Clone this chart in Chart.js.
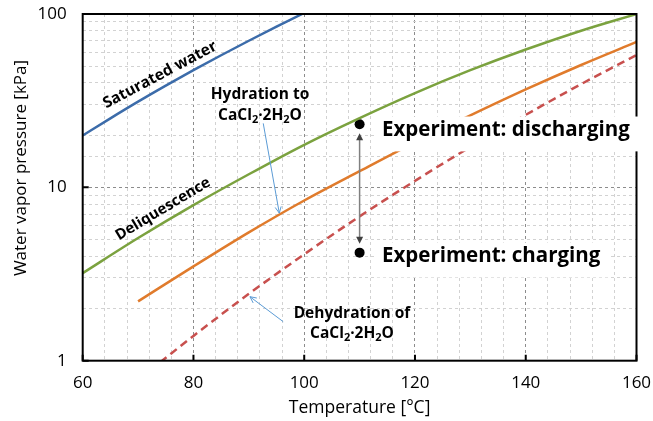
<!DOCTYPE html>
<html>
<head>
<meta charset="utf-8">
<script src="https://cdn.jsdelivr.net/npm/chart.js@4.4.1/dist/chart.umd.min.js"></script>
<style>
  html, body { margin: 0; padding: 0; background: #fff; }
  #wrap { width: 653px; height: 421px; }
</style>
</head>
<body>
<div id="wrap"><canvas id="vaporChart" width="653" height="421"></canvas></div>
<script>
// temperature [°C] and vapor pressure [kPa] of each curve
const satTemp = [60, 65, 70, 75, 80, 85, 90, 95, 100, 105];
const satPres = [19.9, 25.0, 31.2, 38.6, 47.4, 57.8, 70.1, 84.6, 101.4, 120.8];
const deliqTemp = [60, 70, 80, 90, 100, 110, 120, 130, 140, 150, 160];
const deliqPres = [3.2, 5.1, 7.9, 11.9, 17.6, 25.1, 35.0, 47.4, 62.4, 80.1, 100];
const hydTemp = [70, 80, 90, 100, 110, 120, 130, 140, 150, 160];
const hydPres = [2.2, 3.5, 5.5, 8.4, 12.4, 18.2, 26.0, 36.7, 50.8, 69.0];
const dehydTemp = [74, 80, 90, 100, 110, 120, 130, 140, 150, 160];
const dehydPres = [0.98, 1.39, 2.43, 4.11, 6.8, 10.9, 17.1, 26.2, 39.4, 58.0];
// experiment points: discharging, charging
const expTemp = [110, 110];
const expPres = [23.1, 4.2];

const xTickLabels = [60, 80, 100, 120, 140, 160];
const yTickLabels = [1, 10, 100];

const FONT = "'Open Sans', 'Noto Sans', sans-serif";
const BLUE = '#3c6caa';
const GREEN = '#7ba23f';
const ORANGE = '#e07b2c';
const RED = '#c8504e';
const NOTE_BLUE = '#5b9bd5';

function toPoints(xs, ys) {
    return xs.map((x, i) => ({ x: x, y: ys[i] }));
}

// text with subscript parts, e.g. CaCl2·2H2O
function drawRich(c, parts, cx, baseY, size) {
    const big = `bold ${size}px ${FONT}`;
    const small = `bold ${Math.round(size * 0.68)}px ${FONT}`;
    let total = 0;
    parts.forEach(p => { c.font = p[1] ? small : big; total += c.measureText(p[0]).width; });
    let x = cx - total / 2;
    c.textAlign = 'left';
    c.textBaseline = 'alphabetic';
    parts.forEach(p => {
        c.font = p[1] ? small : big;
        c.fillText(p[0], x, p[1] ? baseY + size * 0.22 : baseY);
        x += c.measureText(p[0]).width;
    });
}

function drawRotated(c, text, cx, cy, deg, size) {
    c.save();
    c.translate(cx, cy);
    c.rotate(-deg * Math.PI / 180);
    c.font = `bold ${size}px ${FONT}`;
    c.textAlign = 'center';
    c.textBaseline = 'middle';
    c.fillText(text, 0, 0);
    c.restore();
}

function openArrow(c, x1, y1, x2, y2, color) {
    const ang = Math.atan2(y2 - y1, x2 - x1);
    c.strokeStyle = color;
    c.lineWidth = 1;
    c.beginPath();
    c.moveTo(x1, y1);
    c.lineTo(x2, y2);
    c.moveTo(x2 - 7 * Math.cos(ang - 0.45), y2 - 7 * Math.sin(ang - 0.45));
    c.lineTo(x2, y2);
    c.lineTo(x2 - 7 * Math.cos(ang + 0.45), y2 - 7 * Math.sin(ang + 0.45));
    c.stroke();
}

function headAt(c, x, y, dir) {
    c.beginPath();
    c.moveTo(x, y);
    c.lineTo(x - 3.5, y - dir * 7);
    c.lineTo(x + 3.5, y - dir * 7);
    c.closePath();
    c.fill();
}

function labelBox(c, text, x, baseY, size, padR) {
    c.font = `bold ${size}px ${FONT}`;
    const w = c.measureText(text).width;
    c.fillStyle = '#fff';
    c.fillRect(x - 7, baseY - size * 0.95, w + 7 + padR, size * 1.7);
    c.fillStyle = '#000';
    c.textAlign = 'left';
    c.textBaseline = 'alphabetic';
    c.fillText(text, x, baseY);
}

// keep tick label overhang from shrinking the plot area
function noOverhang(s) {
    s.paddingTop = 0;
    s.paddingBottom = 0;
    s.paddingLeft = 0;
    s.paddingRight = 0;
}

const decorations = {
    id: 'decorations',
    afterDatasetsDraw(chart) {
        const c = chart.ctx;
        const a = chart.chartArea;
        const xs = chart.scales.x;
        const ys = chart.scales.y;
        c.save();

        // plot frame and inward major ticks
        c.strokeStyle = '#000';
        c.lineWidth = 2;
        c.strokeRect(a.left, a.top, a.right - a.left, a.bottom - a.top);
        c.beginPath();
        xTickLabels.forEach(v => {
            const px = xs.getPixelForValue(v);
            c.moveTo(px, a.bottom);
            c.lineTo(px, a.bottom - 6);
        });
        yTickLabels.forEach(v => {
            const py = ys.getPixelForValue(v);
            c.moveTo(a.left, py);
            c.lineTo(a.left + 6, py);
        });
        c.stroke();

        // axis titles
        c.fillStyle = '#000';
        c.font = `17.5px ${FONT}`;
        c.textAlign = 'center';
        c.textBaseline = 'middle';
        c.fillText('Temperature [°C]', (a.left + a.right) / 2, 408);
        c.font = `17px ${FONT}`;
        c.save();
        c.translate(21, 168);
        c.rotate(-Math.PI / 2);
        c.fillText('Water vapor pressure [kPa]', 0, 0);
        c.restore();

        // curve names
        drawRotated(c, 'Saturated water', 160, 75, 28, 15.5);
        drawRotated(c, 'Deliquescence', 163, 209, 31, 15);

        c.fillStyle = '#000';
        c.font = `bold 15.5px ${FONT}`;
        c.textAlign = 'center';
        c.textBaseline = 'alphabetic';
        c.fillText('Hydration to', 260, 99);
        drawRich(c, [['CaCl', 0], ['2', 1], ['·2H', 0], ['2', 1], ['O', 0]], 260, 120, 15.5);
        c.font = `bold 15.5px ${FONT}`;
        c.textAlign = 'center';
        c.fillText('Dehydration of', 352, 318);
        drawRich(c, [['CaCl', 0], ['2', 1], ['·2H', 0], ['2', 1], ['O', 0]], 352, 338, 15.5);

        // pointers to the hydration / dehydration curves
        openArrow(c, xs.getPixelForValue(92.6), ys.getPixelForValue(23.4),
            xs.getPixelForValue(95.5), ys.getPixelForValue(7.1), NOTE_BLUE);
        openArrow(c, xs.getPixelForValue(96.2), ys.getPixelForValue(1.68),
            xs.getPixelForValue(90.2), ys.getPixelForValue(2.34), NOTE_BLUE);

        // double arrow between the two experiment points
        const ex = xs.getPixelForValue(expTemp[0]);
        const yTop = ys.getPixelForValue(expPres[0]) + 9;
        const yBot = ys.getPixelForValue(expPres[1]) - 9;
        c.strokeStyle = '#808080';
        c.fillStyle = '#404040';
        c.lineWidth = 1.5;
        c.beginPath();
        c.moveTo(ex, yTop + 5);
        c.lineTo(ex, yBot - 5);
        c.stroke();
        headAt(c, ex, yTop, -1);
        headAt(c, ex, yBot, 1);

        labelBox(c, 'Experiment: discharging', 382, 136, 20.5, 10);
        labelBox(c, 'Experiment: charging', 382, 262, 20.5, 10);

        c.restore();
    }
};

const ctx = document.getElementById('vaporChart').getContext('2d');
const vaporChart = new Chart(ctx, {
    type: 'line',
    data: {
        datasets: [
            { data: toPoints(satTemp, satPres), borderColor: BLUE, borderWidth: 2.5, pointRadius: 0, cubicInterpolationMode: 'monotone', fill: false },
            { data: toPoints(deliqTemp, deliqPres), borderColor: GREEN, borderWidth: 2.5, pointRadius: 0, cubicInterpolationMode: 'monotone', fill: false },
            { data: toPoints(hydTemp, hydPres), borderColor: ORANGE, borderWidth: 2.5, pointRadius: 0, cubicInterpolationMode: 'monotone', fill: false },
            { data: toPoints(dehydTemp, dehydPres), borderColor: RED, borderWidth: 2.5, borderDash: [8, 5], pointRadius: 0, cubicInterpolationMode: 'monotone', fill: false },
            { data: toPoints(expTemp, expPres), showLine: false, pointRadius: 5, pointBackgroundColor: '#000', pointBorderWidth: 0 }
        ]
    },
    options: {
        responsive: false,
        animation: false,
        layout: { padding: { top: 14, right: 16.5, left: 0, bottom: 0 } },
        plugins: { legend: { display: false }, tooltip: { enabled: false } },
        scales: {
            x: {
                type: 'linear',
                min: 60,
                max: 160,
                afterFit: s => { s.height = 60.3; noOverhang(s); },
                border: { display: false, dash: [3, 3] },
                grid: {
                    drawTicks: false,
                    lineWidth: 1,
                    color: c => (c.tick && c.tick.value % 20 === 0) ? '#8c8c8c' : '#d2d2d2'
                },
                ticks: {
                    stepSize: 4,
                    autoSkip: false,
                    maxRotation: 0,
                    padding: 12,
                    color: '#000',
                    font: { family: FONT, size: 17 },
                    callback: v => xTickLabels.includes(v) ? v : ''
                }
            },
            y: {
                type: 'logarithmic',
                min: 1,
                max: 100,
                afterFit: s => { s.width = 82.7; noOverhang(s); },
                border: { display: false, dash: [3, 3] },
                grid: {
                    drawTicks: false,
                    lineWidth: 1,
                    color: c => (c.tick && yTickLabels.includes(c.tick.value)) ? '#8c8c8c' : '#d2d2d2'
                },
                ticks: {
                    autoSkip: false,
                    padding: 16,
                    color: '#000',
                    font: { family: FONT, size: 17 },
                    callback: v => yTickLabels.includes(v) ? v : ''
                }
            }
        }
    },
    plugins: [decorations]
});
</script>
</body>
</html>
